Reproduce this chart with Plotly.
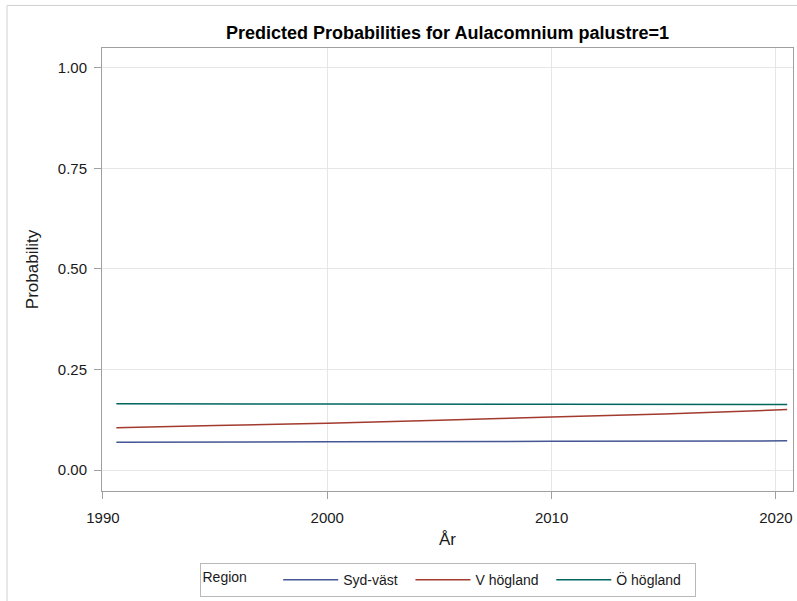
import plotly.graph_objects as go

# Data
years_syd = [1990.6, 2000, 2010, 2020.5]
syd_vast = [0.0695, 0.0705, 0.0717, 0.0730]
years_v = [1990.6, 1995, 2000, 2005, 2010, 2015, 2020.5]
v_hogland = [0.1057, 0.1110, 0.1170, 0.1240, 0.1320, 0.1400, 0.1506]
years_o = [1990.6, 2000, 2010, 2020.5]
o_hogland = [0.1650, 0.1645, 0.1638, 0.1632]

x_ticks = [1990, 2000, 2010, 2020]
y_ticks = [0.0, 0.25, 0.5, 0.75, 1.0]
y_tick_labels = ["0.00", "0.25", "0.50", "0.75", "1.00"]

series = [
    ("Syd-väst", years_syd, syd_vast, "#445694"),
    ("V högland", years_v, v_hogland, "#A23A2E"),
    ("Ö högland", years_o, o_hogland, "#01665E"),
]

FONT = "Liberation Sans, Arial, sans-serif"

fig = go.Figure()
for name, xs, ys, col in series:
    fig.add_trace(go.Scatter(x=xs, y=ys, mode="lines", name=name + "  ",
                             line=dict(color=col, width=1.5),
                             line_shape="spline"))

W, H = 797, 601
L, R, T, B = 102, 4, 48, 105
pw, ph = W - L - R, H - T - B

def px2paper_x(px):
    return (px - L) / pw

def px2paper_y(py):
    return (H - B - py) / ph

fig.update_layout(
    width=W, height=H,
    margin=dict(l=L, r=R, t=T, b=B),
    paper_bgcolor="white", plot_bgcolor="white",
    font=dict(family=FONT, size=15, color="#1a1a1a"),
    title=dict(text="<b>Predicted Probabilities for Aulacomnium palustre=1</b>",
               x=0.5, xref="paper", xanchor="center",
               y=1 - 33 / H, yref="container", yanchor="middle",
               font=dict(family=FONT, size=18, color="#000000")),
    xaxis=dict(range=[1989.96, 2020.76], tickvals=x_ticks,
               ticktext=[str(v) for v in x_ticks],
               showgrid=True, gridcolor="#E6E6E6", gridwidth=1,
               showline=True, linecolor="#A0A0A0", linewidth=1, mirror=True,
               ticks="outside", ticklen=7, tickcolor="#A0A0A0",
               ticklabelstandoff=6,
               zeroline=False,
               title=dict(text="År", font=dict(size=17), standoff=8),
               tickfont=dict(size=15)),
    yaxis=dict(range=[-0.0516, 1.049], tickvals=y_ticks, ticktext=y_tick_labels,
               showgrid=True, gridcolor="#E6E6E6", gridwidth=1,
               showline=True, linecolor="#A0A0A0", linewidth=1, mirror=True,
               ticks="outside", ticklen=7, tickcolor="#A0A0A0",
               ticklabelstandoff=4,
               zeroline=False,
               title=dict(text="Probability", font=dict(size=17), standoff=14),
               tickfont=dict(size=15)),
    legend=dict(orientation="h", x=0.5, xanchor="center",
                y=px2paper_y(569), yanchor="top",
                title=dict(text="Region      ", side="left", font=dict(size=14)),
                bordercolor="#B8B8B8", borderwidth=1,
                font=dict(size=14), itemwidth=55,
                tracegroupgap=0),
    showlegend=True,
)

fig.add_shape(type="rect", xref="paper", yref="paper",
              x0=px2paper_x(7), x1=px2paper_x(805),
              y0=px2paper_y(610), y1=px2paper_y(5),
              line=dict(color="#D0D0D0", width=1), fillcolor="rgba(0,0,0,0)",
              layer="below")

fig.write_html(
    "out.html",
    config={"displayModeBar": False},
    post_script="document.body.style.margin='0';document.body.style.overflow='hidden';",
)
